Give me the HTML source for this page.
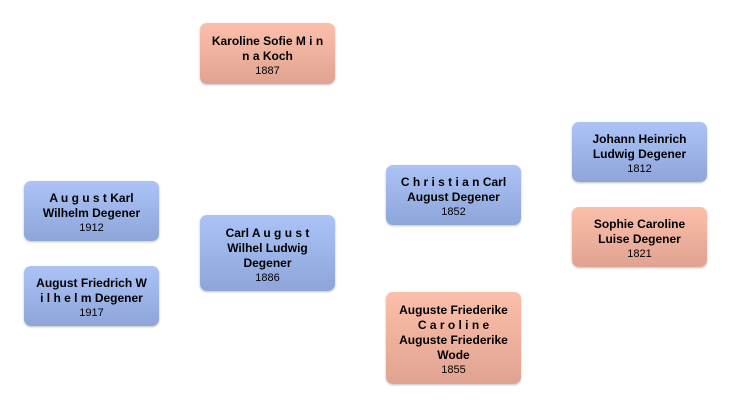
<!DOCTYPE html>
<html><head><meta charset="utf-8"><style>
body{margin:0;width:732px;height:409px;background:#fff;position:relative;font-family:"Liberation Sans",Arial,sans-serif;overflow:hidden}
.b{position:absolute;width:135px;border-radius:7px;display:flex;flex-direction:column;justify-content:center;align-items:center;text-align:center;color:#000;box-shadow:0 1px 2px rgba(0,0,0,.25);box-sizing:border-box;padding:4px 2px 0}
.m{background:linear-gradient(#abc3f6,#8ea5da)}
.f{background:linear-gradient(#fbbfab,#e0a391)}
.n{font-weight:bold;font-size:12px;line-height:15px;white-space:nowrap}
.y{font-size:11px;line-height:14px}
</style></head><body>
<div class="b f" style="left:200px;top:23px;height:61px"><div class="n">Karoline Sofie M i n<br>n a Koch</div><div class="y">1887</div></div>
<div class="b m" style="left:24px;top:181px;height:60px"><div class="n">A u g u s t Karl<br>Wilhelm Degener</div><div class="y">1912</div></div>
<div class="b m" style="left:24px;top:266px;height:60px"><div class="n">August Friedrich W<br>i l h e l m Degener</div><div class="y">1917</div></div>
<div class="b m" style="left:200px;top:215px;height:76px"><div class="n">Carl A u g u s t<br>Wilhel Ludwig<br>Degener</div><div class="y">1886</div></div>
<div class="b m" style="left:386px;top:165px;height:60px"><div class="n">C h r i s t i a n Carl<br>August Degener</div><div class="y">1852</div></div>
<div class="b f" style="left:386px;top:292px;height:92px"><div class="n">Auguste Friederike<br>C a r o l i n e<br>Auguste Friederike<br>Wode</div><div class="y">1855</div></div>
<div class="b m" style="left:572px;top:122px;height:60px"><div class="n">Johann Heinrich<br>Ludwig Degener</div><div class="y">1812</div></div>
<div class="b f" style="left:572px;top:207px;height:60px"><div class="n">Sophie Caroline<br>Luise Degener</div><div class="y">1821</div></div>
</body></html>
